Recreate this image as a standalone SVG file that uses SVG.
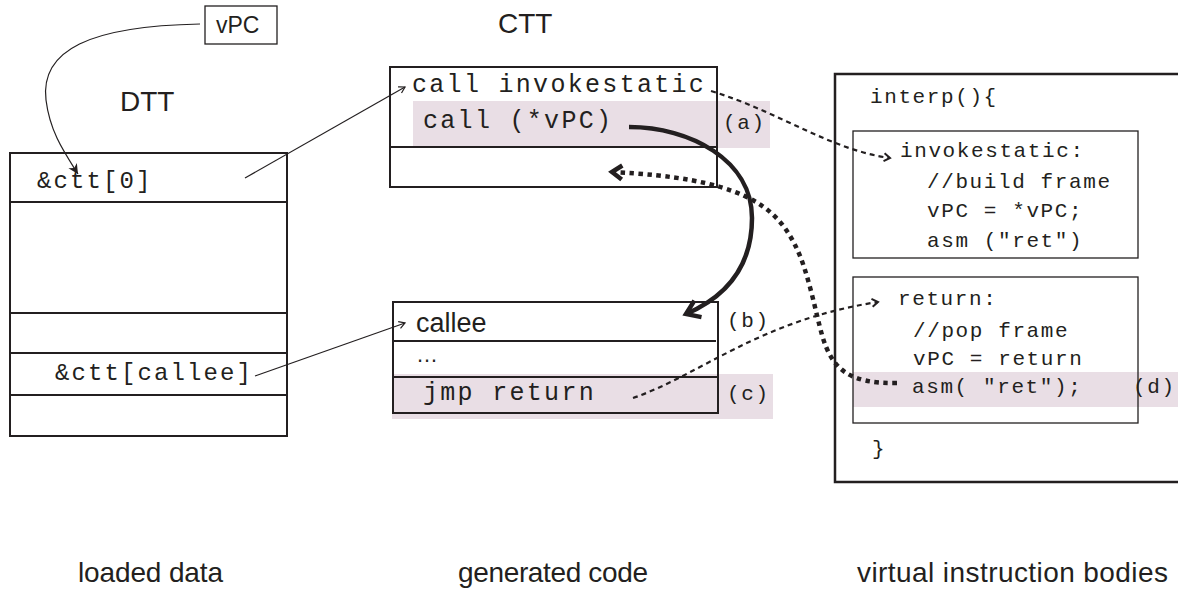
<svg xmlns="http://www.w3.org/2000/svg" width="1178" height="594" viewBox="0 0 1178 594">
<style>
.sans{font-family:"Liberation Sans",Arial,sans-serif;fill:#231f20}
.m1{font-family:"Liberation Mono","Courier New",monospace;font-size:24px;letter-spacing:2.1px;fill:#231f20}
.m2{font-family:"Liberation Mono","Courier New",monospace;font-size:25px;letter-spacing:2.3px;fill:#231f20}
.m3{font-family:"Liberation Mono","Courier New",monospace;font-size:21px;letter-spacing:1.6px;fill:#231f20}
.box{fill:none;stroke:#231f20;stroke-width:2}
.thin{fill:none;stroke:#231f20;stroke-width:1.3}
.shade{fill:#e9dee5}
.c-thin{fill:none;stroke:#231f20;stroke-width:1.2}
.c-thick{fill:none;stroke:#231f20;stroke-width:4.5}
.c-dot{fill:none;stroke:#231f20;stroke-width:4.5;stroke-dasharray:4.5 4.5}
.c-dash{fill:none;stroke:#231f20;stroke-width:2.2;stroke-dasharray:5 4}
</style>
<defs>
<marker id="aThin" viewBox="-8 -5 10 10" refX="0" refY="0" markerWidth="10" markerHeight="10" markerUnits="userSpaceOnUse" orient="auto">
<path d="M-6,-3.5 L0,0 L-6,3.5" fill="none" stroke="#231f20" stroke-width="1.2"/>
</marker>
<marker id="aFill" viewBox="-12 -6 14 12" refX="0" refY="0" markerWidth="14" markerHeight="12" markerUnits="userSpaceOnUse" orient="auto">
<path d="M-10,-5 L0,0 L-10,5 L-7,0 Z" fill="#231f20"/>
</marker>
<marker id="aThick" viewBox="-20 -12 24 24" refX="0" refY="0" markerWidth="24" markerHeight="24" markerUnits="userSpaceOnUse" orient="auto">
<path d="M-13,-9 L0,0 L-13,9" fill="none" stroke="#231f20" stroke-width="4.5" stroke-linejoin="miter"/>
</marker>
<marker id="aDot" viewBox="-16 -10 20 20" refX="0" refY="0" markerWidth="20" markerHeight="20" markerUnits="userSpaceOnUse" orient="auto">
<path d="M-10,-7 L0,0 L-10,7" fill="none" stroke="#231f20" stroke-width="4.5"/>
</marker>
<marker id="aDash" viewBox="-10 -6 12 12" refX="0" refY="0" markerWidth="12" markerHeight="12" markerUnits="userSpaceOnUse" orient="auto">
<path d="M-6,-4 L0,0 L-6,4" fill="none" stroke="#231f20" stroke-width="2"/>
</marker>
</defs>

<g id="vpc">
<rect class="thin" x="205" y="6" width="72" height="38"/>
<text class="sans" x="216" y="33" font-size="23">vPC</text>
</g>

<g id="labels">
<text class="sans" x="120" y="111" font-size="28">DTT</text>
<text class="sans" x="498" y="33" font-size="28">CTT</text>
<text class="sans" x="78" y="582" font-size="28" textLength="145">loaded data</text>
<text class="sans" x="458" y="582" font-size="28" textLength="190">generated code</text>
<text class="sans" x="857" y="582" font-size="28" textLength="311">virtual instruction bodies</text>
</g>

<g id="dtt">
<rect class="box" x="10" y="153" width="277" height="283"/>
<line class="box" x1="10" y1="202" x2="287" y2="202"/>
<line class="box" x1="10" y1="313" x2="287" y2="313"/>
<line class="box" x1="10" y1="353" x2="287" y2="353"/>
<line class="box" x1="10" y1="395" x2="287" y2="395"/>
<text class="m1" x="37" y="188">&amp;ctt[0]</text>
<text class="m1" x="55" y="380">&amp;ctt[callee]</text>
</g>

<g id="ctt-top">
<rect class="shade" x="413" y="101" width="357" height="47"/>
<rect class="box" x="390" y="67" width="327" height="120"/>
<line class="box" x1="390" y1="147" x2="717" y2="147"/>
<text class="m2" x="412" y="92">call invokestatic</text>
<text class="m2" x="423" y="128">call (*vPC)</text>
<text class="m3" x="723" y="129">(a)</text>
</g>

<g id="ctt-callee">
<rect class="shade" x="392" y="374" width="381" height="45"/>
<rect class="box" x="393" y="302" width="325" height="111"/>
<line class="box" x1="393" y1="341" x2="716" y2="341"/>
<line class="box" x1="393" y1="377" x2="718" y2="377"/>
<text class="sans" x="416" y="332" font-size="27">callee</text>
<text class="sans" x="416" y="362" font-size="22">…</text>
<text class="m2" x="423" y="400">jmp return</text>
<text class="m3" x="727" y="327">(b)</text>
<text class="m3" x="727" y="400">(c)</text>
</g>

<g id="interp">
<rect class="shade" x="853" y="372" width="325" height="35"/>
<path d="M1180,74 L835,74 L835,482 L1180,482" fill="none" stroke="#231f20" stroke-width="2.5"/>
<rect class="thin" x="853" y="131" width="285" height="127"/>
<rect class="thin" x="853" y="277" width="285" height="146"/>
<text class="m3" x="870" y="103">interp(){</text>
<text class="m3" x="900" y="157">invokestatic:</text>
<text class="m3" x="927" y="188">//build frame</text>
<text class="m3" x="927" y="217">vPC = *vPC;</text>
<text class="m3" x="927" y="247">asm ("ret")</text>
<text class="m3" x="898" y="305">return:</text>
<text class="m3" x="913" y="337">//pop frame</text>
<text class="m3" x="913" y="365">vPC = return</text>
<text class="m3" x="912" y="393">asm( "ret");</text>
<text class="m3" x="1133" y="393">(d)</text>
<text class="m3" x="872" y="455">}</text>
</g>

<g id="connectors">
<path class="c-thin" d="M200,24 C90,26 40,50 46,100 C50,132 64,152 78,174" marker-end="url(#aFill)"/>
<path class="c-thin" d="M245,178 L405,87" marker-end="url(#aThin)"/>
<path class="c-thin" d="M255,376 L405,323" marker-end="url(#aThin)"/>
<path class="c-thick" d="M629,127 C690,127 752,160 752,218 C752,262 730,295 686,314" marker-end="url(#aThick)"/>
<path class="c-dot" d="M897,383 C850,384 832,370 822,335 C815,310 808,270 795,245 C775,205 740,178 612,172" marker-end="url(#aDot)"/>
<path class="c-dash" d="M711,91 C780,112 830,150 890,158" marker-end="url(#aDash)"/>
<path class="c-dash" d="M633,398 C700,375 760,320 878,302" marker-end="url(#aDash)"/>
</g>
</svg>
